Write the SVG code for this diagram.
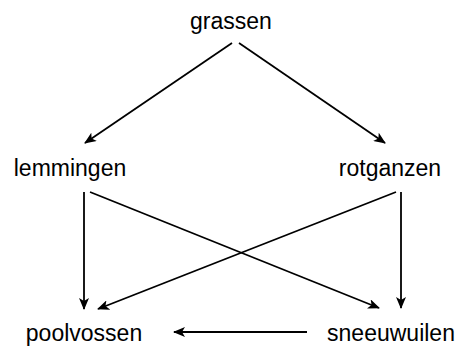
<svg xmlns="http://www.w3.org/2000/svg" width="462" height="347" viewBox="0 0 462 347">
<style>
text{font-family:"Liberation Sans",Arial,sans-serif;font-size:23px;fill:#000;text-anchor:middle}
.e{stroke:#000;stroke-width:1.8;fill:none;marker-end:url(#ah)}
</style>
<defs>
<marker id="ah" viewBox="0 0 12 10" refX="11" refY="5" markerWidth="12" markerHeight="10" markerUnits="userSpaceOnUse" orient="auto">
<path d="M0,0 L12,5 L0,10 L3,5 Z" fill="#000"/>
</marker>
</defs>
<rect width="462" height="347" fill="#fff"/>
<g id="connectors">
<line class="e" x1="232" y1="43" x2="85" y2="143"/>
<line class="e" x1="239" y1="43" x2="385" y2="143"/>
<line class="e" x1="84" y1="192" x2="84" y2="309"/>
<line class="e" x1="90" y1="192" x2="379" y2="308"/>
<line class="e" x1="396" y1="192" x2="98" y2="309"/>
<line class="e" x1="401" y1="192" x2="401" y2="308"/>
<line class="e" x1="307" y1="332" x2="174" y2="332"/>
</g>
<g id="grassen"><text x="231" y="29">grassen</text></g>
<g id="lemmingen"><text x="70" y="176">lemmingen</text></g>
<g id="rotganzen"><text x="390" y="176">rotganzen</text></g>
<g id="poolvossen"><text x="84" y="341">poolvossen</text></g>
<g id="sneeuwuilen"><text x="391" y="341">sneeuwuilen</text></g>
</svg>
